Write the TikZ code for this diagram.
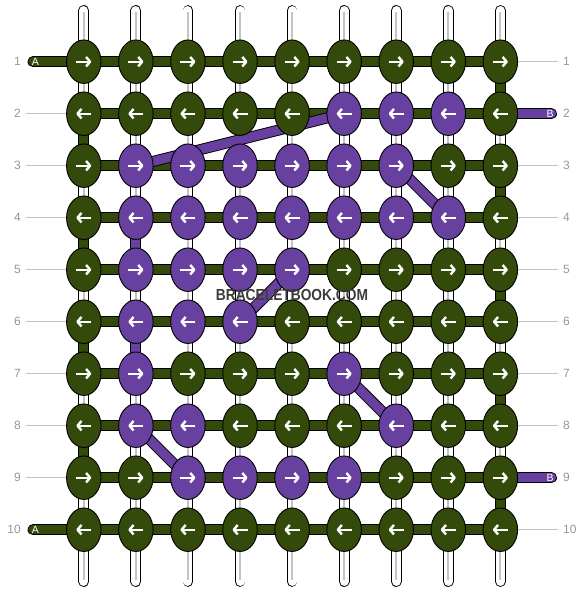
\documentclass[tikz,border=0pt]{standalone}
\usepackage{fontspec}
\setmainfont{Liberation Sans}
\usetikzlibrary{shapes.geometric,arrows.meta}
\definecolor{gr}{RGB}{52,74,11}
\definecolor{pu}{RGB}{104,64,160}
\definecolor{lbl}{RGB}{150,150,150}
\definecolor{guide}{RGB}{195,195,195}
\definecolor{wm}{RGB}{60,60,60}
\pgfdeclarelayer{strings}
\pgfdeclarelayer{bars}
\pgfsetlayers{strings,bars,main}
\tikzset{
	knot/.style={ellipse, draw=black, line width=0.9pt, minimum width=34.5pt, minimum height=43.5pt, inner sep=0pt},
	dirline/.style={white, line width=2.4pt, -{Straight Barb[length=4pt, width=9.5pt, line join=round]}},
	bar/.style={draw=black, line width=0.9pt, double=#1, double distance=9.2pt},
	tail/.style={bar=#1, line cap=round},
	string/.style={draw=black, line width=0.9pt, double=white, double distance=9pt, line cap=round},
	strcore/.style={draw=guide, line width=1.8pt},
	guideline/.style={draw=guide, line width=1pt},
	rowlbl/.style={lbl, font=\fontsize{12}{12}\selectfont, inner sep=0pt},
	taillbl/.style={white, font=\fontsize{10.5}{10.5}\selectfont, inner sep=0pt}
}
\begin{document}
\begin{tikzpicture}[x=1pt, y=-1pt]
	\useasboundingbox (0,0) rectangle (584,592);
	%knots
		\foreach \row/\cols in {1/{gr,gr,gr,gr,gr,gr,gr,gr,gr}, 2/{gr,gr,gr,gr,gr,pu,pu,pu,gr},
				3/{gr,pu,pu,pu,pu,pu,pu,gr,gr}, 4/{gr,pu,pu,pu,pu,pu,pu,pu,gr}, 5/{gr,pu,pu,pu,pu,gr,gr,gr,gr},
				6/{gr,pu,pu,pu,gr,gr,gr,gr,gr}, 7/{gr,pu,gr,gr,gr,pu,gr,gr,gr}, 8/{gr,pu,pu,gr,gr,gr,pu,gr,gr},
				9/{gr,gr,pu,pu,pu,pu,gr,gr,gr}, 10/{gr,gr,gr,gr,gr,gr,gr,gr,gr}}
			\foreach \c [count=\col] in \cols
				\node[knot, fill=\c] (k\row-\col) at ({83.8+52.07*(\col-1)}, {61.7+52*(\row-1)}) {};
	%direction arrows
		\foreach \row in {1,3,5,7,9}
			\foreach \col in {1,...,9}
				\draw[dirline] ([xshift=-7.5pt]k\row-\col.center) -- ([xshift=7.5pt]k\row-\col.center);
		\foreach \row in {2,4,6,8,10}
			\foreach \col in {1,...,9}
				\draw[dirline] ([xshift=7.5pt]k\row-\col.center) -- ([xshift=-7.5pt]k\row-\col.center);
	%strings
		\begin{pgfonlayer}{strings}
			\foreach \col in {1,...,9} {
				\draw[string] ({83.8+52.07*(\col-1)}, 10.5) -- ({83.8+52.07*(\col-1)}, 581.5);
				\draw[strcore] ({83.8+52.07*(\col-1)}, 12) -- ({83.8+52.07*(\col-1)}, 580);
			}
		\end{pgfonlayer}
	\begin{pgfonlayer}{bars}
		%rows
			\foreach \row in {1,...,10}
				\foreach \col/\nxt in {1/2, 2/3, 3/4, 4/5, 5/6, 6/7, 7/8, 8/9}
					\draw[bar=gr] (k\row-\col.center) -- (k\row-\nxt.center);
		%turns at the edges
			\foreach \a/\b/\col in {1/2/9, 2/3/1, 3/4/9, 4/5/1, 5/6/9, 6/7/1, 7/8/9, 8/9/1, 9/10/9}
				\draw[bar=gr] (k\a-\col.center) -- (k\b-\col.center);
		%purple thread B
			\foreach \a/\b in {4-2/5-2, 6-2/7-2, 2-6/3-2, 3-7/4-8, 5-5/6-4, 7-6/8-7, 8-2/9-3}
				\draw[bar=pu] (k\a.center) -- (k\b.center);
		%tails
			\coordinate (endA1) at (33,61.7);
			\coordinate (endA10) at (33,529.7);
			\coordinate (endB2) at (551.5,113.7);
			\coordinate (endB9) at (551.5,477.7);
			\draw[tail=gr] (k1-1.center) -- (endA1);
			\draw[tail=gr] (k10-1.center) -- (endA10);
			\draw[tail=pu] (k2-9.center) -- (endB2);
			\draw[tail=pu] (k9-9.center) -- (endB9);
		%guide lines
			\foreach \row in {2,...,9} {
				\coordinate (gl\row) at (26, {61.7+52*(\row-1)});
				\draw[guideline] (gl\row) -- (k\row-1.center);
			}
			\foreach \row in {1,3,4,5,6,7,8,10} {
				\coordinate (gright\row) at (557.5, {61.7+52*(\row-1)});
				\draw[guideline] (k\row-9.center) -- (gright\row);
			}
	\end{pgfonlayer}
	%row numbers
		\foreach \row in {1,...,10} {
			\node[rowlbl, anchor=east] (nl\row) at (21, {61.7+52*(\row-1)}) {\row};
			\node[rowlbl, anchor=west] (nr\row) at (563, {61.7+52*(\row-1)}) {\row};
		}
	%tail labels
		\node[taillbl] (labA1) at (35.5,61.7) {A};
		\node[taillbl] (labA10) at (35.5,529.7) {A};
		\node[taillbl] (labB2) at (550,113.7) {B};
		\node[taillbl] (labB9) at (550,477.7) {B};
	%watermark
		\node[wm, font=\bfseries\fontsize{16}{16}\selectfont, inner sep=0pt] (mark) at (292,295.2) {\scalebox{0.86}[1]{BRACELETBOOK.COM}};
\end{tikzpicture}
\end{document}
